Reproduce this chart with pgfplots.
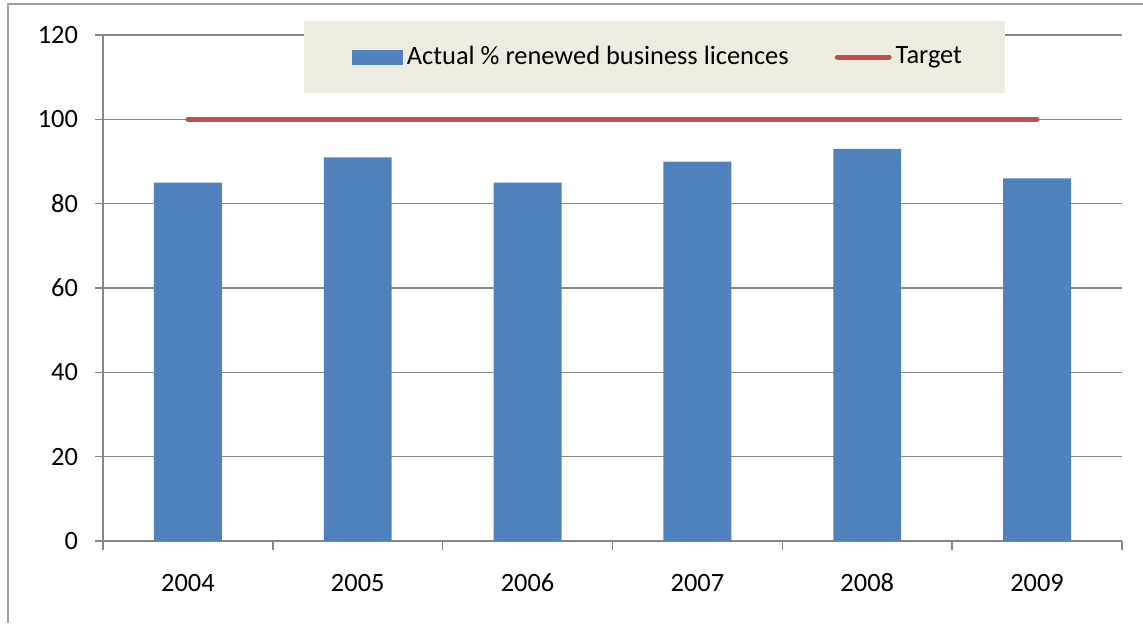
\documentclass[border=0pt]{standalone}
\usepackage{pgfplots}
\pgfplotsset{compat=1.18}
\usepackage{fontspec}
\setmainfont{Carlito}
\definecolor{barblue}{HTML}{4F81BD}
\definecolor{tgtred}{HTML}{C0504D}
\definecolor{axgray}{HTML}{868686}
\definecolor{legbg}{HTML}{EEECE1}
\definecolor{brdgray}{HTML}{A0A0A0}
\begin{document}
\begin{tikzpicture}
\path[use as bounding box] (0,0) rectangle (571.5pt,311.5pt);
\draw[brdgray, line width=0.8pt] (4pt,0) -- (4pt,309.5pt) -- (575pt,309.5pt);
\begin{axis}[
  at={(51.5pt,41pt)}, anchor=south west,
  scale only axis, width=509.5pt, height=253pt,
  font=\fontsize{13.2}{16}\selectfont,
  /pgf/number format/assume math mode=true,
  xmin=-0.5, xmax=5.5, ymin=0, ymax=120,
  axis x line=bottom, axis y line=left,
  axis line style={axgray, line width=0.8pt, -},
  ytick={0,20,...,120},
  ymajorgrids, grid style={axgray, line width=0.6pt},
  tick align=outside,
  major tick length=4pt, minor tick length=4.5pt,
  tick style={axgray, line width=0.8pt},
  xtick={0,...,5},
  xticklabels={2004,2005,2006,2007,2008,2009},
  major x tick style={draw=none},
  minor xtick={-0.5,0.5,...,5.5},
  xticklabel style={yshift=-10pt, text height=1.6ex, text depth=0pt},
  yticklabel style={xshift=-5pt},
  legend columns=2,
  legend style={at={(0.5412,0.9565)}, anchor=center, fill=legbg, draw=none,
    inner xsep=19.5pt, inner ysep=10.5pt,
    font=\fontsize{13.2}{16}\selectfont,
    /tikz/every even column/.append style={column sep=21pt},
    cells={anchor=west}},
]
\addplot[ybar, bar width=0.4, fill=barblue, draw=none,
  legend image code/.code={\path (0pt,0pt); \fill[barblue] (4.5pt,-3.75pt) rectangle (30pt,3.75pt);}]
  coordinates {(0,85) (1,91) (2,85) (3,90) (4,93) (5,86)};
\addlegendentry{Actual \% renewed business licences}
\addplot[tgtred, line width=2.5pt, line cap=round,
  legend image code/.code={\draw[tgtred, line width=2.5pt, line cap=round] (1pt,0pt) -- (27pt,0pt);}]
  coordinates {(0,100) (1,100) (2,100) (3,100) (4,100) (5,100)};
\addlegendentry{Target}
\end{axis}
\end{tikzpicture}
\end{document}
